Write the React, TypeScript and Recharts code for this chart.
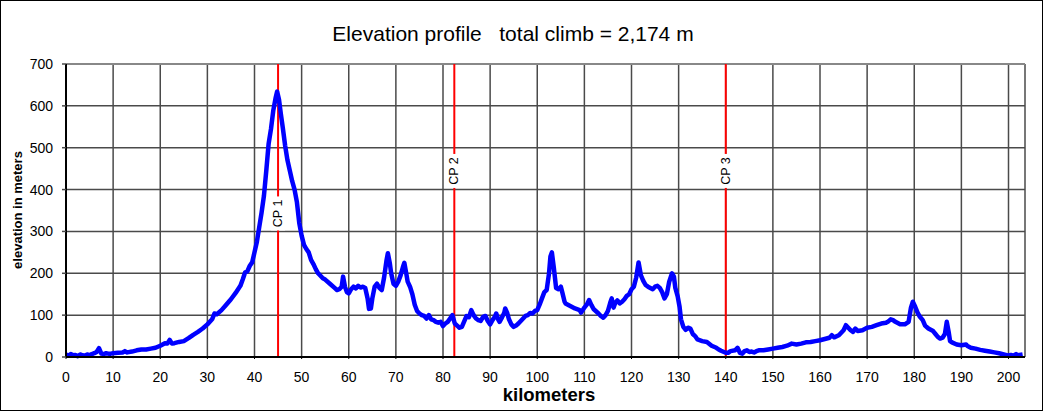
import React from "react";
import { LineChart, Line, XAxis, YAxis, CartesianGrid, ReferenceLine } from "recharts";

// Route profile: distance along the course (km) and elevation (m)
const distanceKm = [
  0, 0.5, 1, 1.5, 2, 2.5, 3, 3.5, 4, 4.5, 5, 5.5, 6, 6.5, 7, 7.5, 8, 8.5, 9, 9.5,
  10, 11, 12, 12.5, 13, 14, 15, 16, 17, 18, 19, 20, 21, 21.5, 22, 22.5, 23, 24, 25, 26,
  27, 28, 29, 30, 31, 31.5, 32, 33, 34, 35, 36, 37, 37.5, 38, 38.5, 39, 39.5, 40, 40.5, 41,
  41.5, 42, 42.5, 43, 43.5, 44, 44.5, 44.8, 45.2, 45.6, 46, 46.5, 47, 47.5, 48, 48.5, 49, 49.5, 50, 50.5,
  51, 51.5, 52, 52.5, 53, 53.5, 54, 54.5, 55, 56, 57, 57.5, 58, 58.5, 58.8, 59.2, 59.6, 60, 60.5, 61,
  61.5, 62, 62.5, 63, 63.5, 64, 64.3, 64.7, 65, 65.5, 66, 66.5, 67, 67.5, 68, 68.3, 68.7, 69, 69.5, 70,
  70.5, 71, 71.5, 71.8, 72.2, 72.5, 73, 73.5, 74, 74.5, 75, 75.5, 76, 76.5, 77, 77.5, 78, 78.5, 79, 79.5,
  80, 80.5, 81, 81.5, 82, 82.5, 83, 83.5, 84, 84.5, 85, 85.5, 86, 86.5, 87, 87.5, 88, 88.5, 89, 89.5,
  90, 90.5, 91, 91.3, 91.7, 92, 92.5, 93, 93.2, 93.6, 94, 94.5, 95, 95.5, 96, 96.5, 97, 97.5, 98, 98.5,
  99, 99.5, 100, 100.5, 101, 101.5, 102, 102.5, 102.8, 103.1, 103.5, 104, 104.5, 105, 105.3, 105.8, 106, 107, 108, 109,
  109.3, 110, 110.5, 111, 111.5, 112, 113, 113.5, 114, 114.5, 115, 115.5, 115.8, 116.2, 116.5, 117, 117.5, 118, 118.5, 119,
  119.5, 120, 120.5, 121, 121.5, 122, 122.5, 123, 123.5, 124, 124.5, 125, 125.5, 126, 126.5, 127, 127.5, 128, 128.6, 129,
  129.3, 129.8, 130.2, 130.5, 131, 131.5, 132, 132.5, 133, 133.5, 134, 135, 136, 137, 138, 138.5, 139, 140, 140.5, 141,
  142, 142.5, 143, 143.5, 144, 144.5, 145, 145.5, 146, 146.5, 147, 148, 149, 150, 151, 152, 153, 154, 155, 156,
  157, 158, 159, 160, 161, 162, 162.5, 163, 164, 164.5, 165, 165.5, 166, 166.5, 167, 167.5, 168, 169, 170, 171,
  172, 173, 174, 174.5, 175, 175.5, 176, 177, 178, 178.8, 179.3, 179.7, 180.2, 180.7, 181.2, 181.8, 182.3, 183, 184, 184.5,
  185, 185.5, 186, 186.5, 186.9, 187.3, 187.6, 188, 189, 190, 191, 191.3, 192, 193, 194, 195, 196, 197, 198, 199,
  200, 200.5, 201, 201.6, 202, 203,
];

const elevationM = [
  6, 3, 7, 4, 5, 2, 6, 4, 3, 6, 4, 7, 9, 12, 21, 8, 7, 9, 8, 8,
  9, 10, 11, 14, 11, 13, 16, 18, 18, 20, 22, 27, 33, 32, 41, 32, 33, 36, 38, 45,
  53, 60, 68, 78, 90, 104, 102, 112, 125, 138, 153, 170, 185, 202, 205, 218, 226, 250, 275, 310,
  345, 385, 445, 510, 545, 590, 620, 634, 615, 580, 548, 505, 470, 445, 420, 400, 370, 320, 290, 268,
  258, 250, 232, 222, 210, 200, 194, 188, 185, 175, 165, 160, 162, 168, 192, 168, 155, 152, 162, 168,
  164, 170, 166, 168, 165, 140, 115, 116, 140, 168, 175, 165, 160, 190, 230, 248, 225, 200, 175, 170,
  180, 195, 215, 225, 200, 180, 168, 150, 125, 110, 104, 100, 98, 92, 100, 90, 88, 84, 82, 84,
  74, 80, 84, 92, 100, 80, 75, 70, 72, 85, 98, 95, 112, 100, 92, 88, 86, 96, 98, 86,
  78, 88, 96, 104, 90, 84, 94, 106, 116, 106, 90, 78, 72, 75, 80, 86, 92, 98, 100, 105,
  104, 110, 112, 125, 140, 155, 160, 200, 240, 250, 215, 165, 162, 168, 155, 132, 128, 122, 116, 112,
  106, 118, 125, 136, 124, 114, 104, 98, 94, 100, 110, 130, 140, 118, 128, 135, 128, 132, 138, 146,
  150, 162, 168, 190, 226, 195, 182, 172, 168, 165, 162, 168, 170, 165, 155, 140, 150, 180, 200, 192,
  165, 145, 120, 90, 72, 65, 70, 68, 55, 50, 42, 38, 36, 27, 22, 18, 15, 10, 10, 14,
  16, 22, 10, 8, 14, 16, 12, 13, 11, 14, 16, 16, 18, 20, 22, 24, 27, 32, 30, 32,
  35, 36, 38, 40, 43, 46, 52, 47, 52, 58, 64, 76, 70, 64, 60, 68, 62, 64, 70, 72,
  76, 80, 82, 85, 90, 88, 84, 78, 78, 84, 118, 132, 120, 106, 96, 88, 75, 68, 62, 55,
  48, 44, 46, 55, 84, 60, 38, 35, 30, 28, 30, 26, 22, 20, 17, 15, 13, 11, 9, 6,
  3, 5, 3, 7, 4, 6,
];

// Checkpoints along the route
const checkpointKm = [45, 82.4, 140];
const checkpointNames = ["CP 1", "CP 2", "CP 3"];

const xTicks = [0, 10, 20, 30, 40, 50, 60, 70, 80, 90, 100, 110, 120, 130, 140, 150, 160, 170, 180, 190, 200];
const yTicks = [0, 100, 200, 300, 400, 500, 600, 700];

const profile = distanceKm.map((km, i) => ({ km, elevation: elevationM[i] }));

const FONT = "'Liberation Sans', Arial, sans-serif";

// Vertical checkpoint tag: rotated text on a white box that interrupts the red line
function CheckpointTag(props: any) {
  const { viewBox, text, at } = props;
  if (!viewBox) return null;
  const cx = viewBox.x;
  const cy = viewBox.y + viewBox.height * at;
  return (
    <g>
      <rect x={cx - 7} y={cy - 17} width={14} height={34} fill="#fff" />
      <text
        x={cx}
        y={cy}
        transform={`rotate(-90 ${cx} ${cy})`}
        textAnchor="middle"
        dominantBaseline="central"
        fontFamily={FONT}
        fontSize={12.5}
        fill="#000"
      >
        {text}
      </text>
    </g>
  );
}

const tagPositions = [0.51, 0.365, 0.365];

export default function App() {
  return (
    <div
      style={{
        position: "absolute",
        left: 0,
        top: 0,
        width: 1043,
        height: 411,
        background: "#fff",
        fontFamily: FONT,
      }}
    >
      <div
        style={{
          position: "absolute",
          left: 0,
          top: 22,
          width: 1026,
          textAlign: "center",
          fontSize: 21,
          whiteSpace: "pre",
          color: "#000",
        }}
      >
        {"Elevation profile   total climb = 2,174 m"}
      </div>
      <div
        style={{
          position: "absolute",
          left: 17,
          top: 210,
          transform: "translate(-50%, -50%) rotate(-90deg)",
          fontSize: 13,
          fontWeight: "bold",
          whiteSpace: "nowrap",
          color: "#000",
        }}
      >
        elevation in meters
      </div>
      <div
        style={{
          position: "absolute",
          left: 549,
          top: 395,
          transform: "translate(-50%, -50%)",
          fontSize: 18.5,
          fontWeight: "bold",
          whiteSpace: "nowrap",
          color: "#000",
        }}
      >
        kilometers
      </div>
      <div style={{ position: "absolute", left: 0, top: 0 }}>
        <LineChart
          width={1043}
          height={411}
          data={profile}
          margin={{ top: 64, right: 18, bottom: 0, left: 0 }}
        >
          <CartesianGrid stroke="#4a4a4a" strokeWidth={1.5} />
          <XAxis
            dataKey="km"
            type="number"
            domain={[0, 203.5]}
            allowDataOverflow
            ticks={xTicks}
            interval={0}
            height={54}
            axisLine={{ stroke: "#000", strokeWidth: 2 }}
            tickLine={{ stroke: "#000" }}
            tickSize={2}
            tickMargin={13}
            tick={{ fill: "#000", fontSize: 14, fontFamily: FONT }}
          />
          <YAxis
            type="number"
            domain={[0, 700]}
            ticks={yTicks}
            interval={0}
            width={66}
            axisLine={{ stroke: "#000", strokeWidth: 2 }}
            tickLine={{ stroke: "#4a4a4a", strokeWidth: 1.5 }}
            tickSize={4}
            tickMargin={9}
            tick={{ fill: "#000", fontSize: 14, fontFamily: FONT }}
          />
          <ReferenceLine y={700} stroke="#888" strokeWidth={2} />
          {checkpointKm.map((km, i) => (
            <ReferenceLine
              key={checkpointNames[i]}
              x={km}
              stroke="#ff0000"
              strokeWidth={2}
              label={<CheckpointTag text={checkpointNames[i]} at={tagPositions[i]} />}
            />
          ))}
          <Line
            type="linear"
            dataKey="elevation"
            stroke="#0000ff"
            strokeWidth={4.5}
            dot={false}
            isAnimationActive={false}
            strokeLinejoin="round"
          />
        </LineChart>
      </div>
      <div
        style={{
          position: "absolute",
          left: 0,
          top: 0,
          width: 1043,
          height: 411,
          boxSizing: "border-box",
          border: "1px solid #000",
          pointerEvents: "none",
        }}
      />
    </div>
  );
}
